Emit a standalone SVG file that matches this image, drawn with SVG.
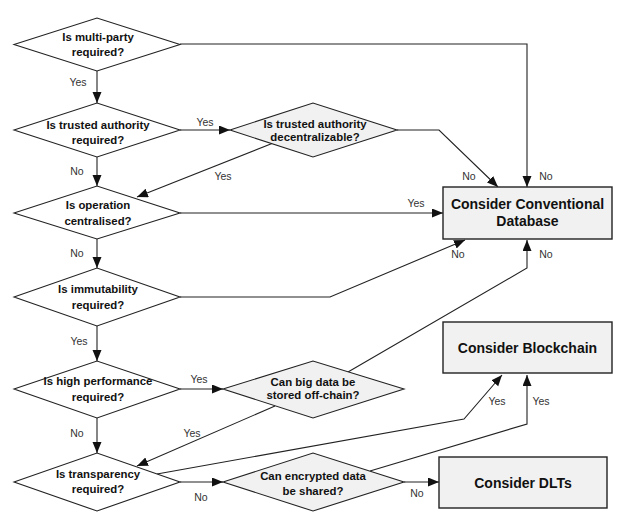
<svg xmlns="http://www.w3.org/2000/svg" width="626" height="527" viewBox="0 0 626 527">
<defs>
<marker id="ah" markerUnits="userSpaceOnUse" markerWidth="12" markerHeight="10" refX="11" refY="4.5" orient="auto">
<path d="M0,0 L11,4.5 L0,9 z" fill="#111"/>
</marker>
<style>
.d{fill:#fff;stroke:#222;stroke-width:1.1}
.g{fill:#f1f1f1;stroke:#222;stroke-width:1.1}
.b{fill:#f1f1f1;stroke:#222;stroke-width:1.4}
.t{font-family:"Liberation Sans",Arial,sans-serif;font-weight:bold;font-size:11.4px;fill:#111;text-anchor:middle}
.bt{font-family:"Liberation Sans",Arial,sans-serif;font-weight:bold;font-size:14px;fill:#111;text-anchor:middle}
.l{font-family:"Liberation Sans",Arial,sans-serif;font-size:10.5px;fill:#333;text-anchor:middle}
#conn path{fill:none;stroke:#222;stroke-width:1.1;marker-end:url(#ah)}
</style>
</defs>
<rect width="626" height="527" fill="#fff"/>
<g id="conn">
<path d="M180,44 H527 V187"/>
<path d="M97,71 V103"/>
<path d="M180,130 H230"/>
<path d="M397,130 H439 L498,187"/>
<path d="M272,143.5 L137,197"/>
<path d="M97,157 V186"/>
<path d="M180,213 H443"/>
<path d="M97,239 V268"/>
<path d="M180,297 H330 L465,240"/>
<path d="M348,372 L527,268 V240"/>
<path d="M97,326 V361"/>
<path d="M180,389 H223"/>
<path d="M275,406 L137,466"/>
<path d="M97,418 V453"/>
<path d="M157,474 L464,419 L502,375"/>
<path d="M370,471 L527,424 V375"/>
<path d="M180,482 H223"/>
<path d="M404,482 H439"/>
</g>
<g id="labels">
<text class="l" x="78" y="86">Yes</text>
<text class="l" x="205" y="126">Yes</text>
<text class="l" x="77" y="175">No</text>
<text class="l" x="223" y="180">Yes</text>
<text class="l" x="469" y="180">No</text>
<text class="l" x="546" y="180">No</text>
<text class="l" x="416" y="207">Yes</text>
<text class="l" x="77" y="257">No</text>
<text class="l" x="458" y="258">No</text>
<text class="l" x="546" y="258">No</text>
<text class="l" x="79" y="345">Yes</text>
<text class="l" x="199" y="383">Yes</text>
<text class="l" x="77" y="437">No</text>
<text class="l" x="192" y="437">Yes</text>
<text class="l" x="497" y="405">Yes</text>
<text class="l" x="541" y="405">Yes</text>
<text class="l" x="201" y="501">No</text>
<text class="l" x="417" y="497">No</text>
</g>
<g id="d1"><polygon class="d" points="14,44.5 97,18 180,44.5 97,71"/><text class="t" x="98" y="40.5">Is multi-party</text><text class="t" x="98" y="55.5">required?</text></g>
<g id="d2"><polygon class="d" points="14,130 97,103 180,130 97,157"/><text class="t" x="98" y="129">Is trusted authority</text><text class="t" x="98" y="143.5">required?</text></g>
<g id="da"><polygon class="g" points="230,130 313,103 397,130 313,157"/><text class="t" x="315" y="128">Is trusted authority</text><text class="t" x="315" y="141">decentralizable?</text></g>
<g id="d3"><polygon class="d" points="14,213 97,186 180,213 97,239"/><text class="t" x="98" y="209">Is operation</text><text class="t" x="98" y="225">centralised?</text></g>
<g id="d4"><polygon class="d" points="14,297 97,268 180,297 97,326"/><text class="t" x="98" y="293">Is immutability</text><text class="t" x="98" y="309">required?</text></g>
<g id="d5"><polygon class="d" points="14,389 97,361 180,389 97,418"/><text class="t" x="98" y="385">Is high performance</text><text class="t" x="98" y="401">required?</text></g>
<g id="db"><polygon class="g" points="223,389 313,361 404,389 313,418"/><text class="t" x="313" y="386">Can big data be</text><text class="t" x="313" y="399">stored off-chain?</text></g>
<g id="d6"><polygon class="d" points="14,482 97,453 180,482 97,511"/><text class="t" x="98" y="478">Is transparency</text><text class="t" x="98" y="493">required?</text></g>
<g id="dc"><polygon class="g" points="223,482 313,453 404,482 313,511"/><text class="t" x="313" y="480">Can encrypted data</text><text class="t" x="313" y="495">be shared?</text></g>
<g id="bdb"><rect class="b" x="443" y="187" width="169" height="52"/><text class="bt" x="527.5" y="209">Consider Conventional</text><text class="bt" x="527.5" y="225.5">Database</text></g>
<g id="bbc"><rect class="b" x="443" y="322" width="169" height="51"/><text class="bt" x="527.5" y="353">Consider Blockchain</text></g>
<g id="bdlt"><rect class="b" x="439" y="457" width="168" height="51"/><text class="bt" x="523" y="487.5">Consider DLTs</text></g>
</svg>
